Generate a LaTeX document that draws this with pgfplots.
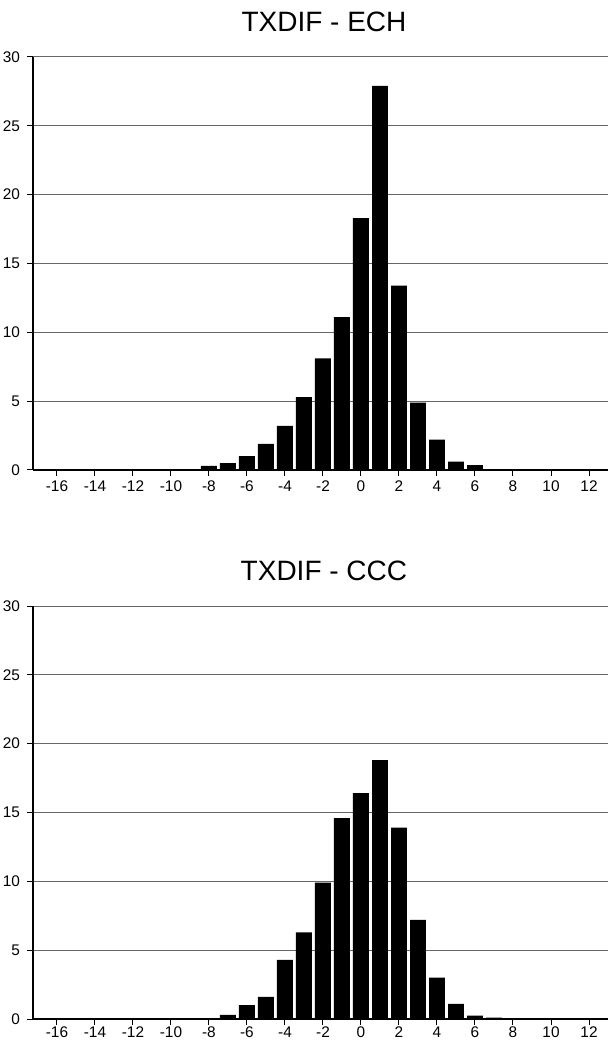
\documentclass[border=0pt]{standalone}
\usepackage{fontspec}
\setmainfont{Liberation Sans}
\usepackage{pgfplots}
\pgfplotsset{compat=1.18}
\usepackage{pgfplotstable}

% bin centre, percentage
\pgfplotstableread{
x y
-10 0.05
-8 0.3
-7 0.5
-6 1.0
-5 1.9
-4 3.2
-3 5.3
-2 8.1
-1 11.1
0 18.3
1 27.9
2 13.4
3 4.9
4 2.2
5 0.6
6 0.35
}\ech

\pgfplotstableread{
x y
-7 0.3
-6 1.0
-5 1.6
-4 4.3
-3 6.3
-2 9.9
-1 14.6
0 16.4
1 18.8
2 13.9
3 7.2
4 3.0
5 1.1
6 0.25
7 0.1
}\ccc

\pgfplotsset{
  histo/.style={
    width=287.5pt, height=206.5pt, scale only axis,
    xmin=-17.26, xmax=13, ymin=0, ymax=30,
    enlargelimits=false,
    axis x line*=bottom, axis y line*=left,
    x axis line style={-, black, line width=0.6pt},
    y axis line style={-, black, line width=0.6pt},
    xtick={-16,-14,...,12}, ytick={0,5,...,30},
    tick align=outside, major tick length=3pt,
    tick style={black, line width=0.5pt},
    ymajorgrids,
    major grid style={black!60, line width=0.5pt},
    /pgf/number format/assume math mode=true,
    tick label style={font=\fontsize{7.7}{9}\selectfont},
    title style={font=\fontsize{14}{16}\selectfont, at={(0.506,1)}, anchor=center, yshift=11.5pt},
    ybar, bar width=0.84, bar shift=0pt,
  },
}

\begin{document}
\begin{tikzpicture}
\path[use as bounding box] (-16.5pt,-286.5pt) rectangle (287.5pt,235pt);

\begin{axis}[histo, at={(0,0)}, title={TXDIF - ECH},
  xticklabel style={yshift=1pt}]
  \addplot[fill=black, draw=none] table[x=x, y=y] {\ech};
\end{axis}

\begin{axis}[histo, at={(0,-274.5pt)}, title={TXDIF - CCC},
  xticklabel style={yshift=2.5pt}]
  \addplot[fill=black, draw=none] table[x=x, y=y] {\ccc};
\end{axis}
\end{tikzpicture}
\end{document}
